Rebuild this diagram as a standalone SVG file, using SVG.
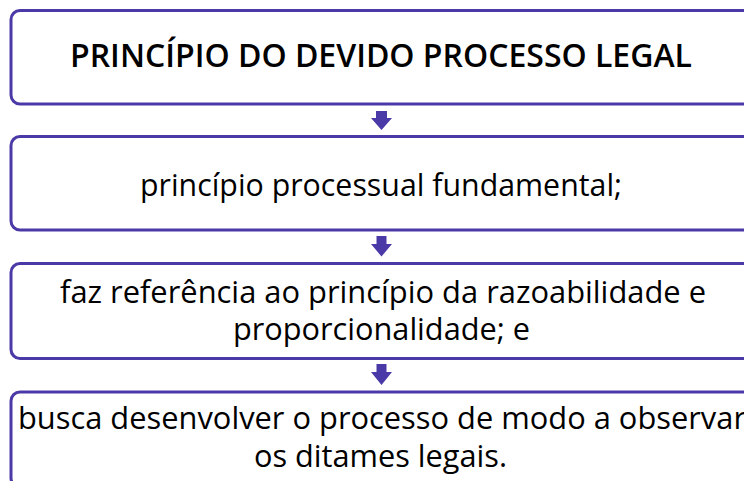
<svg xmlns="http://www.w3.org/2000/svg" width="744" height="481" viewBox="0 0 744 481">
<style>
.box{fill:#fff;stroke:#4a3aa8;stroke-width:3}
.arr{fill:#4a3aa8}
.t{font-family:"Open Sans","Liberation Sans",sans-serif;font-size:31px;font-weight:400;fill:#000;text-anchor:middle}
.title{font-weight:600;font-size:33px}
</style>
<rect width="744" height="481" fill="#fff"/>
<g id="connectors">
<path class="arr" d="M376,111 h11 v7 h5 l-10.5,12 l-10.5,-12 h5 z"/>
<path class="arr" d="M376.5,236 h10 v8 h5.5 l-10.5,12.5 l-10.5,-12.5 h5.5 z"/>
<path class="arr" d="M376.5,364 h10 v8 h5.5 l-10.5,13 l-10.5,-13 h5.5 z"/>
</g>
<g id="n1">
<rect class="box" x="11" y="10.5" width="760" height="93.5" rx="9"/>
<text class="t title" x="381" y="67" textLength="622" lengthAdjust="spacingAndGlyphs">PRINCÍPIO DO DEVIDO PROCESSO LEGAL</text>
</g>
<g id="n2">
<rect class="box" x="11" y="136.5" width="760" height="93.5" rx="9"/>
<text class="t" x="381" y="196" textLength="482" lengthAdjust="spacingAndGlyphs">princípio processual fundamental;</text>
</g>
<g id="n3">
<rect class="box" x="11" y="263.5" width="760" height="95" rx="9"/>
<text class="t" x="383" y="303" textLength="646" lengthAdjust="spacingAndGlyphs">faz referência ao princípio da razoabilidade e</text>
<text class="t" x="381.5" y="340" textLength="297" lengthAdjust="spacingAndGlyphs">proporcionalidade; e</text>
</g>
<g id="n4">
<rect class="box" x="11" y="392" width="760" height="95" rx="9"/>
<text class="t" x="382" y="429" textLength="728" lengthAdjust="spacingAndGlyphs">busca desenvolver o processo de modo a observar</text>
<text class="t" x="380.5" y="467" textLength="253" lengthAdjust="spacingAndGlyphs">os ditames legais.</text>
</g>
</svg>
